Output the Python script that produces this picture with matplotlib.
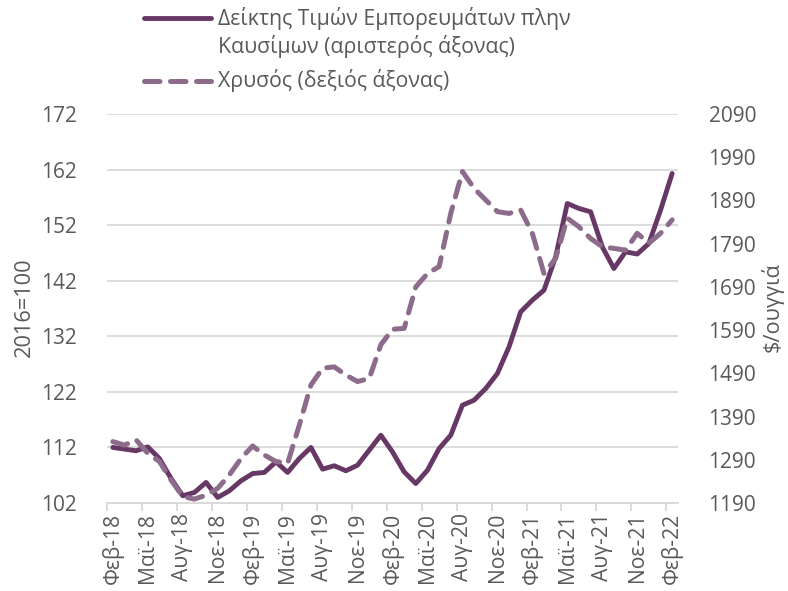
import matplotlib
matplotlib.use("Agg")
import matplotlib.pyplot as plt
from matplotlib.lines import Line2D
from matplotlib.ticker import FixedLocator, NullFormatter

plt.rcParams['font.family'] = ['Open Sans', 'DejaVu Sans']

# Monthly data Feb-18 .. Feb-22 (49 months)
commodity_index = [112.0, 111.7, 111.4, 112.1, 110.0, 106.4, 103.3, 103.9, 105.7, 103.0,
                   104.2, 106.0, 107.3, 107.5, 109.4, 107.5, 110.0, 112.0, 108.1, 108.7,
                   107.8, 108.8, 111.5, 114.2, 111.2, 107.6, 105.5, 107.9, 111.8, 114.2,
                   119.6, 120.5, 122.6, 125.3, 130.1, 136.4, 138.5, 140.3, 146.3, 155.9,
                   155.0, 154.4, 148.1, 144.2, 147.2, 146.8, 148.7, 154.7, 161.3]
gold_price = [1332, 1324, 1336, 1305, 1286, 1243, 1205, 1199, 1208, 1224,
              1255, 1293, 1322, 1301, 1286, 1282, 1370, 1463, 1502, 1505,
              1486, 1471, 1478, 1556, 1592, 1594, 1690, 1721, 1737, 1860,
              1957, 1918, 1891, 1864, 1860, 1868, 1814, 1721, 1756, 1849,
              1829, 1802, 1783, 1779, 1775, 1814, 1791, 1814, 1845]
tick_labels = ["Φεβ-18", "Μαϊ-18", "Αυγ-18", "Νοε-18", "Φεβ-19", "Μαϊ-19", "Αυγ-19",
               "Νοε-19", "Φεβ-20", "Μαϊ-20", "Αυγ-20", "Νοε-20", "Φεβ-21", "Μαϊ-21",
               "Αυγ-21", "Νοε-21", "Φεβ-22"]
series_names = ["Δείκτης Τιμών Εμπορευμάτων πλην\nΚαυσίμων (αριστερός άξονας)",
                "Χρυσός (δεξιός άξονας)"]
left_ticks = [102, 112, 122, 132, 142, 152, 162, 172]
right_ticks = [1190, 1290, 1390, 1490, 1590, 1690, 1790, 1890, 1990, 2090]

c_solid = '#673865'
c_dash = '#8D6B8B'
txt = '#595959'
grid = '#D9D9D9'
fs = 15.3
fs_x = 15.2
fs_y = 15.0

W, H = 788, 591
fig = plt.figure(figsize=(W / 100, H / 100), dpi=100)
ax = fig.add_axes([107 / W, 1 - 503 / H, (678 - 107) / W, (503 - 114) / H])
ax2 = ax.twinx()

x = list(range(len(commodity_index)))
ax.plot(x, commodity_index, color=c_solid, lw=3.5, solid_capstyle='round',
        solid_joinstyle='round', zorder=3)
ax2.plot(x, gold_price, color=c_dash, lw=3.6, dashes=(3.1, 2.1),
         dash_capstyle='round', dash_joinstyle='round', zorder=2)

ax.set_xlim(-0.5, len(x) - 0.5)
ax.set_ylim(102, 172)
ax2.set_ylim(1190, 2090)
ax.set_yticks(left_ticks)
ax2.set_yticks(right_ticks)
ax.yaxis.grid(True, color=grid, lw=1.3)
ax.set_axisbelow(True)

ax.set_xticks(list(range(0, len(x), 3)))
ax.set_xticklabels(tick_labels, rotation=90)
ax.xaxis.set_minor_locator(FixedLocator([i - 0.5 for i in range(0, len(x), 3)]))
ax.xaxis.set_minor_formatter(NullFormatter())
ax.tick_params(axis='x', which='major', length=0, pad=7, labelsize=fs_x, labelcolor=txt)
ax.tick_params(axis='x', which='minor', length=6, width=1.3, color=grid)
ax.tick_params(axis='y', length=0, pad=22, labelsize=fs_y, labelcolor=txt)
ax2.tick_params(axis='y', length=0, pad=22, labelsize=fs_y, labelcolor=txt)

for a in (ax, ax2):
    for s in ('top', 'left', 'right'):
        a.spines[s].set_visible(False)
    a.spines['bottom'].set_color(grid)
    a.spines['bottom'].set_linewidth(1.3)

fig.text(24 / W, 1 - 307 / H, "2016=100", rotation=90, ha='center', va='center',
         fontsize=fs + 0.4, color=txt)
fig.text(772 / W, 1 - 307 / H, "$/ουγγιά", rotation=90, ha='center', va='center',
         fontsize=fs + 0.4, color=txt)

# legend
fig.add_artist(Line2D([144 / W, 211 / W], [1 - 18 / H, 1 - 18 / H], color=c_solid,
                      lw=3.5, solid_capstyle='round', transform=fig.transFigure))
fig.add_artist(Line2D([144 / W, 211 / W], [1 - 81 / H, 1 - 81 / H], color=c_dash,
                      lw=3.6, dashes=(3.1, 2.1), dash_capstyle='round',
                      transform=fig.transFigure))
l1, l2 = series_names[0].split("\n")
fig.text(218 / W, 1 - 18 / H, l1, ha='left', va='center', fontsize=fs, color=txt)
fig.text(218 / W, 1 - 47 / H, l2, ha='left', va='center', fontsize=fs, color=txt)
fig.text(218 / W, 1 - 81 / H, series_names[1], ha='left', va='center', fontsize=fs, color=txt)

fig.savefig("out.png", dpi=100)
